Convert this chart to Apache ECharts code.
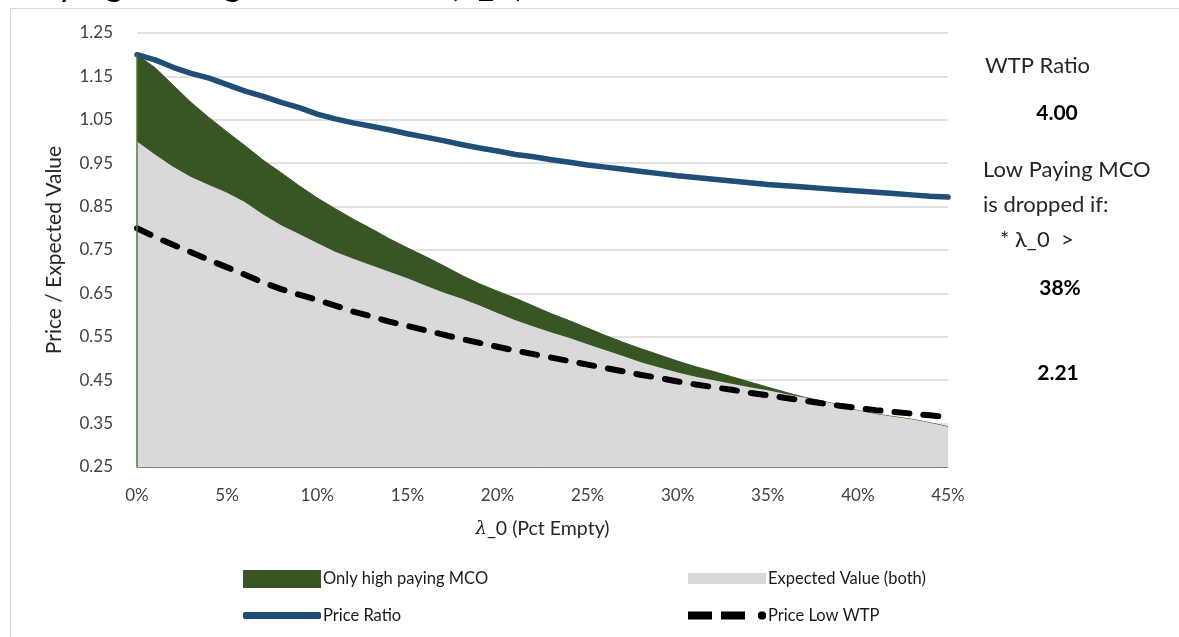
<!DOCTYPE html>
<html>
<head>
<meta charset="utf-8">
<script src="https://cdn.jsdelivr.net/npm/echarts@6/dist/echarts.min.js"></script>
<style>
html,body{margin:0;padding:0;background:#fff;}
#chart{width:1179px;height:637px;}
</style>
</head>
<body>
<div id="chart"></div>
<script>
// λ_0 (percent empty)
const pct = [0,1,2,3,4,5,6,7,8,9,10,11,12,13,14,15,16,17,18,19,20,21,22,23,24,25,26,27,28,29,30,31,32,33,34,35,36,37,38,39,40,41,42,43,44,45];
// Only high paying MCO (top of green band)
const highPaying = [1.200,1.170,1.130,1.090,1.055,1.022,0.990,0.957,0.928,0.898,0.870,0.845,0.821,0.799,0.776,0.755,0.735,0.714,0.692,0.672,0.655,0.639,0.621,0.603,0.587,0.570,0.553,0.537,0.522,0.508,0.494,0.481,0.470,0.458,0.446,0.434,0.422,0.411,0.402,0.393,0.380,0.372,0.366,0.360,0.352,0.343];
// Expected Value (both)
const expectedValue = [1.000,0.970,0.942,0.918,0.900,0.882,0.860,0.832,0.807,0.787,0.766,0.746,0.730,0.715,0.700,0.685,0.668,0.652,0.638,0.622,0.605,0.588,0.574,0.560,0.547,0.533,0.519,0.505,0.491,0.479,0.468,0.458,0.450,0.442,0.434,0.427,0.418,0.410,0.402,0.393,0.380,0.372,0.366,0.360,0.352,0.343];
// Price Ratio
const priceRatio = [1.200,1.188,1.171,1.157,1.146,1.131,1.116,1.104,1.090,1.078,1.063,1.052,1.043,1.035,1.027,1.018,1.010,1.002,0.993,0.985,0.978,0.970,0.965,0.958,0.952,0.946,0.941,0.936,0.931,0.926,0.921,0.917,0.913,0.909,0.905,0.901,0.898,0.895,0.892,0.889,0.886,0.883,0.880,0.877,0.874,0.872];
// Price Low WTP
const priceLowWTP = [0.800,0.780,0.762,0.745,0.727,0.710,0.693,0.675,0.660,0.647,0.635,0.622,0.608,0.597,0.585,0.575,0.565,0.555,0.545,0.536,0.527,0.518,0.510,0.502,0.494,0.486,0.478,0.470,0.462,0.455,0.447,0.440,0.434,0.428,0.421,0.415,0.409,0.403,0.397,0.391,0.386,0.381,0.377,0.373,0.369,0.365];
// Axis ticks
const yTicks = [0.25,0.35,0.45,0.55,0.65,0.75,0.85,0.95,1.05,1.15,1.25];
const xTicks = [0,5,10,15,20,25,30,35,40,45];
// Side panel texts
const wtpRatio = '4.00';
const dropPct = '38%';
const extraValue = '2.21';

const FONT = 'Lato';
const pairs = arr => pct.map((x, i) => [x, arr[i]]);
const dashIcon = 'path://M0,0 L24,0 L24,8 L0,8 Z M33,0 L57,0 L57,8 L33,8 Z M72,0 L76,0 L78,2 L78,6 L76,8 L72,8 L70,6 L70,2 Z';

const chart = echarts.init(document.getElementById('chart'), null, {renderer: 'canvas'});
const legendBase = {
  orient: 'horizontal',
  itemWidth: 78,
  itemGap: 0,
  symbolKeepAspect: false,
  textStyle: {fontFamily: FONT, fontSize: 16.5, color: '#1a1a1a', padding: [0, 0, 0, -3]},
  selectedMode: false
};
chart.setOption({
  animation: false,
  backgroundColor: '#fff',
  textStyle: {fontFamily: FONT},
  title: {
    text: 'Paying for High Value Rate (λ_0)',
    left: 14, top: -39,
    textStyle: {fontFamily: FONT, fontSize: 36, fontWeight: 'normal', color: '#000'}
  },
  graphic: [
    {type: 'rect', left: 8, top: 6, z: -10, shape: {width: 1200, height: 700}, style: {fill: 'none', stroke: '#d9d9d9', lineWidth: 1}},
    {type: 'text', left: 985, top: 55, style: {text: 'WTP Ratio', font: '22px Lato', fill: '#262626'}},
    {type: 'text', x: 1057, y: 113, style: {text: wtpRatio, font: 'bold 21px Lato', fill: '#000', align: 'center', verticalAlign: 'middle'}},
    {type: 'text', left: 983, top: 159, style: {text: 'Low Paying MCO', font: '22px Lato', fill: '#262626'}},
    {type: 'text', left: 983, top: 194, style: {text: 'is dropped if:', font: '22px Lato', fill: '#262626'}},
    {type: 'text', left: 1000, top: 229, style: {text: '* λ_0  >', font: '22px Lato', fill: '#262626'}},
    {type: 'text', x: 1060, y: 288, style: {text: dropPct, font: 'bold 21px Lato', fill: '#000', align: 'center', verticalAlign: 'middle'}},
    {type: 'text', x: 1058, y: 373, style: {text: extraValue, font: 'bold 21px Lato', fill: '#000', align: 'center', verticalAlign: 'middle'}}
  ],
  legend: [
    Object.assign({}, legendBase, {left: 238, top: 565, itemHeight: 18, data: [{name: 'Only high paying MCO', icon: 'rect'}]}),
    Object.assign({}, legendBase, {left: 683, top: 565, itemHeight: 11, data: [{name: 'Expected Value (both)', icon: 'rect'}]}),
    Object.assign({}, legendBase, {left: 238, top: 602, itemHeight: 7, data: [{name: 'Price Ratio', icon: 'roundRect'}]}),
    Object.assign({}, legendBase, {left: 683, top: 602, itemHeight: 8, data: [{name: 'Price Low WTP', icon: dashIcon}]})
  ],
  grid: {left: 137, right: 231, top: 33, bottom: 170, containLabel: false},
  xAxis: {
    type: 'value', min: xTicks[0], max: xTicks[xTicks.length - 1], interval: 5,
    name: '{i|λ}_0 (Pct Empty)', nameLocation: 'middle', nameGap: 52,
    nameTextStyle: {fontFamily: FONT, fontSize: 19.5, color: '#262626', rich: {i: {fontStyle: 'italic', fontFamily: 'DejaVu Serif', fontSize: 18, color: '#262626'}}},
    axisLine: {show: true, lineStyle: {color: '#6f8f57', width: 1}},
    axisTick: {show: false},
    splitLine: {show: false},
    axisLabel: {fontFamily: FONT, fontSize: 17, color: '#404040', margin: 20, formatter: v => v + '%'}
  },
  yAxis: {
    type: 'value', min: yTicks[0], max: yTicks[yTicks.length - 1],
    name: 'Price / Expected Value', nameLocation: 'middle', nameGap: 72,
    nameTextStyle: {fontFamily: FONT, fontSize: 21, color: '#262626'},
    axisLine: {show: false},
    axisTick: {show: false, customValues: yTicks},
    splitLine: {show: true, lineStyle: {color: '#d9d9d9', width: 1.5}},
    axisLabel: {fontFamily: FONT, fontSize: 17, color: '#404040', margin: 24, customValues: yTicks, formatter: v => v.toFixed(2)}
  },
  series: [
    {
      name: 'Only high paying MCO', type: 'line', data: pairs(highPaying), symbol: 'none', z: 1,
      itemStyle: {color: '#375623'},
      lineStyle: {width: 1, color: '#375623'},
      areaStyle: {color: '#375623', opacity: 1, origin: 'start'},
      markLine: {
        silent: true, symbol: 'none', label: {show: false},
        lineStyle: {color: '#4f7a35', width: 1.5, type: 'solid'},
        data: [[{coord: [pct[0], yTicks[0]]}, {coord: [pct[0], highPaying[0]]}]]
      }
    },
    {
      name: 'Expected Value (both)', type: 'line', data: pairs(expectedValue), symbol: 'none', z: 2,
      itemStyle: {color: '#d9d9d9'},
      lineStyle: {width: 0, color: '#d9d9d9'},
      areaStyle: {color: '#d9d9d9', opacity: 1, origin: 'start'}
    },
    {
      name: 'Price Low WTP', type: 'line', data: pairs(priceLowWTP), symbol: 'none', z: 3,
      itemStyle: {color: '#000'},
      lineStyle: {width: 6, color: '#000', type: [15, 14], cap: 'round'}
    },
    {
      name: 'Price Ratio', type: 'line', data: pairs(priceRatio), symbol: 'none', z: 4,
      itemStyle: {color: '#1f4e79'},
      lineStyle: {width: 5.5, color: '#1f4e79', cap: 'round', join: 'round'}
    }
  ]
});
</script>
</body>
</html>
